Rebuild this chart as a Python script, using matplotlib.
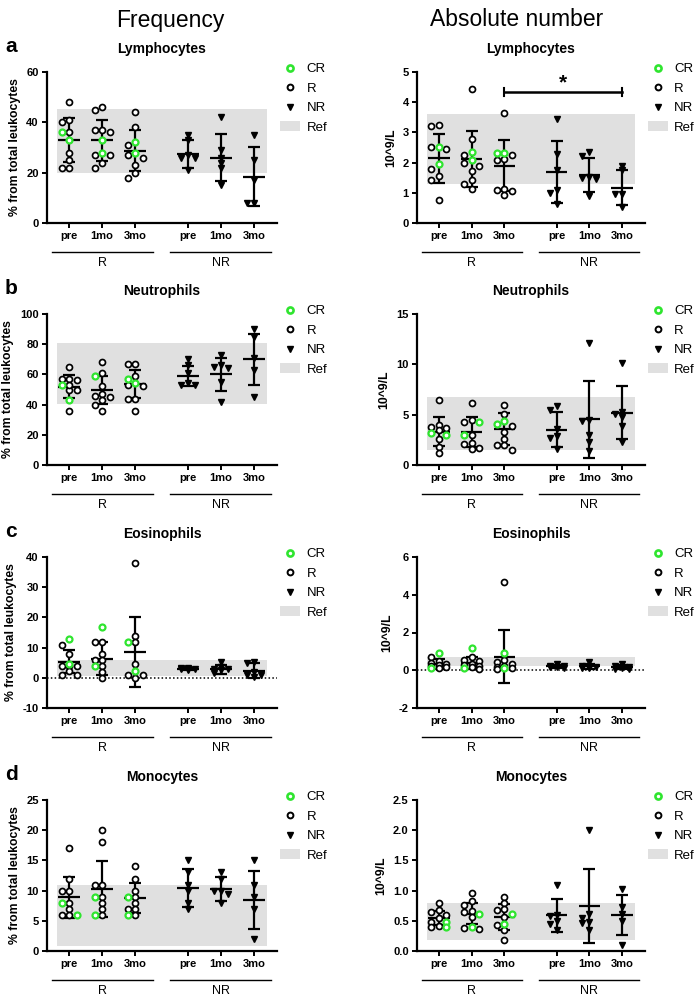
import numpy as np
import matplotlib
matplotlib.use("Agg")
import matplotlib.pyplot as plt
import matplotlib.transforms as mtransforms
from matplotlib.lines import Line2D
from matplotlib.patches import Patch

plt.rcParams["font.family"] = ["Liberation Sans", "DejaVu Sans"]

GREEN = "#2fe52f"
BAND = "#e0e0e0"

timepoints = ["pre", "1mo", "3mo", "pre", "1mo", "3mo"]
xpos = np.array([0, 1, 2, 3.6, 4.6, 5.6])

# --- Lymphocytes ---
lym_pct_r = [[48, 41, 40, 36, 28, 25, 22, 22],
             [46, 45, 37, 37, 36, 27, 27, 24, 22],
             [44, 38, 31, 27, 26, 23, 20, 18]]
lym_pct_cr = [[36, 33], [33, 28], [32, 28]]
lym_pct_nr = [[35, 33, 27, 26, 26, 21], [42, 29, 26, 24, 22, 15], [35, 25, 17, 8, 8]]
lym_pct_mean = [33.0, 32.9, 28.7, 27.4, 25.9, 18.4]
lym_pct_sd = [8.8, 8.1, 8.1, 5.5, 9.3, 11.6]
lym_pct_ref = [19.7, 45.1]

lym_abs_r = [[3.22, 3.26, 2.44, 2.5, 1.8, 1.55, 1.42, 0.77],
             [4.45, 2.77, 2.26, 2.0, 1.88, 1.72, 1.43, 1.28, 1.12],
             [3.65, 2.24, 2.12, 2.1, 1.14, 1.1, 1.05, 0.94]]
lym_abs_cr = [[2.52, 1.94], [2.35, 2.07], [2.33, 2.32]]
lym_abs_nr = [[3.45, 2.3, 1.75, 1.1, 1.0, 0.64], [2.35, 2.22, 1.52, 1.48, 1.45, 0.9],
              [1.89, 1.74, 0.97, 0.95, 0.53]]
lym_abs_mean = [2.14, 2.12, 1.90, 1.68, 1.59, 1.17]
lym_abs_sd = [0.8, 0.93, 0.84, 1.03, 0.56, 0.58]
lym_abs_ref = [1.29, 3.61]
lym_abs_sig = [2, 5]      # compared groups (index into timepoints)
lym_abs_sig_y = 4.33

# --- Neutrophils ---
neu_pct_r = [[65, 57, 57, 56, 50, 50, 53, 36],
             [68, 61, 52, 47, 46, 45, 43, 40, 36],
             [67, 67, 59, 53, 52, 44, 44, 36]]
neu_pct_cr = [[53, 43], [59], [57, 54]]
neu_pct_nr = [[70, 66, 61, 54, 53, 53], [73, 66, 65, 64, 55, 42], [90, 85, 71, 63, 45]]
neu_pct_mean = [51.8, 49.7, 53.6, 59.0, 60.1, 69.9]
neu_pct_sd = [7.7, 9.3, 9.1, 6.5, 10.9, 17.0]
neu_pct_ref = [40.5, 80.8]

neu_abs_r = [[6.45, 3.98, 3.75, 3.7, 3.5, 2.57, 1.78, 1.18],
             [6.2, 4.5, 4.3, 3.0, 2.2, 2.1, 1.7, 1.6],
             [6.0, 5.1, 3.9, 3.3, 2.6, 2.0, 2.0, 1.5]]
neu_abs_cr = [[3.16, 3.0], [4.3, 3.0], [4.4, 4.1]]
neu_abs_nr = [[5.9, 5.5, 3.6, 2.9, 2.7, 1.6], [12.1, 4.5, 4.4, 3.0, 2.3, 1.4],
              [10.1, 5.3, 5.1, 4.8, 3.9, 2.3]]
neu_abs_mean = [3.32, 3.26, 3.59, 3.49, 4.54, 5.2]
neu_abs_sd = [1.42, 1.48, 1.6, 1.75, 3.8, 2.6]
neu_abs_ref = [1.45, 6.71]

# --- Eosinophils ---
eos_pct_r = [[11, 8, 4, 4, 4, 2.3, 1, 1],
             [12, 12, 8, 6, 6, 4, 2, 0],
             [38, 14, 12, 4.5, 1, 1, 0]]
eos_pct_cr = [[12.9, 4.5], [16.9, 4.0], [12, 2.2]]
eos_pct_nr = [[3.3, 3.2, 3.0, 3.0, 2.9, 2.6], [5.2, 3.5, 3.0, 2.8, 2.5, 1.5],
              [5.2, 5.0, 2.0, 1.0, 1.0, 0.4]]
eos_pct_mean = [5.35, 6.35, 8.65, 3.0, 2.8, 2.4]
eos_pct_sd = [3.9, 5.5, 11.6, 0.3, 1.4, 2.5]
eos_pct_ref = [0.7, 5.8]

eos_abs_r = [[0.72, 0.5, 0.4, 0.35, 0.3, 0.2, 0.15, 0.1],
             [0.7, 0.55, 0.5, 0.35, 0.3, 0.2, 0.15, 0.05],
             [4.7, 0.55, 0.45, 0.35, 0.2, 0.15, 0.1, 0.05]]
eos_abs_cr = [[0.93, 0.1], [1.16, 0.1], [0.93, 0.1]]
eos_abs_nr = [[0.35, 0.25, 0.22, 0.18, 0.15, 0.12], [0.42, 0.2, 0.18, 0.15, 0.14, 0.12],
              [0.32, 0.25, 0.15, 0.12, 0.08, 0.05]]
eos_abs_mean = [0.33, 0.38, 0.72, 0.2, 0.2, 0.16]
eos_abs_sd = [0.26, 0.33, 1.42, 0.08, 0.11, 0.1]
eos_abs_ref = [0.23, 0.7]

# --- Monocytes ---
mono_pct_r = [[17, 12, 10, 10, 8, 7, 6, 6],
              [20, 18, 11, 11, 9, 8, 7, 6],
              [14, 12, 10, 9, 8, 7, 7, 6]]
mono_pct_cr = [[8, 6], [9, 6], [9, 6]]
mono_pct_nr = [[15, 13, 11, 10, 8, 7], [13, 12, 10, 10, 9.5, 8], [15, 11, 9, 7, 2]]
mono_pct_mean = [8.9, 10.3, 8.8, 10.4, 10.3, 8.5]
mono_pct_sd = [3.4, 4.6, 2.5, 3.1, 2.0, 4.8]
mono_pct_ref = [0.8, 11.0]

mono_abs_r = [[0.8, 0.68, 0.65, 0.6, 0.55, 0.48, 0.42, 0.4],
              [0.96, 0.82, 0.76, 0.67, 0.65, 0.57, 0.38, 0.37],
              [0.9, 0.8, 0.7, 0.68, 0.57, 0.43, 0.35, 0.19]]
mono_abs_cr = [[0.48, 0.4], [0.62, 0.4], [0.62, 0.45]]
mono_abs_nr = [[1.1, 0.6, 0.58, 0.5, 0.45, 0.35], [2.0, 0.62, 0.55, 0.48, 0.47, 0.35],
               [1.02, 0.73, 0.62, 0.5, 0.1]]
mono_abs_mean = [0.55, 0.62, 0.56, 0.59, 0.745, 0.59]
mono_abs_sd = [0.12, 0.18, 0.21, 0.27, 0.62, 0.33]
mono_abs_ref = [0.19, 0.8]


def swarm(values, ppy, ppx=33.0, step=7.5, dmin=6.0, kmax=1):
    """GraphPad-like horizontal spreading of overlapping points (in pixels)."""
    vals = np.asarray(values, float)
    order = np.argsort(-vals, kind="stable")
    placed = []
    offs = np.zeros(len(vals))
    cands = [0.0]
    for k in range(1, kmax + 1):
        cands += [-k * step, k * step]
    for i in order:
        yp = vals[i] * ppy
        best, best_d = 0.0, -1.0
        for c in cands:
            d = min([np.hypot(c - px, yp - py) for px, py in placed] or [1e9])
            if d >= dmin:
                best = c
                break
            if d > best_d + 0.5:
                best, best_d = c, d
        placed.append((best, yp))
        offs[i] = best / ppx
    return offs


def draw_panel(ax, r, cr, nr, mean, sd, ref, ylim, yticks, ylabel, title,
               yfmt="{:g}", zero_line=False):
    ppy = 151.0 / (ylim[1] - ylim[0])
    ax.fill_between([-0.36, 6.0], ref[0], ref[1], color=BAND, lw=0, zorder=0)
    if zero_line:
        ax.axhline(0, color="black", ls=(0, (1, 1.5)), lw=1.1, zorder=1)

    for i in range(3):
        vals = list(r[i]) + list(cr[i])
        offs = swarm(vals, ppy)
        n = len(r[i])
        ax.plot(xpos[i] + offs[:n], r[i], ls="none", marker="o", ms=4.3,
                mfc="white", mec="black", mew=1.25, zorder=4)
        ax.plot(xpos[i] + offs[n:], cr[i], ls="none", marker="o", ms=4.3,
                mfc="white", mec=GREEN, mew=1.6, zorder=5)
    for j in range(3):
        offs = swarm(nr[j], ppy, step=7.0, dmin=4.5)
        ax.plot(xpos[3 + j] + offs, nr[j], ls="none", marker="v", ms=4.7,
                color="black", zorder=4)

    ax.errorbar(xpos, mean, yerr=sd, fmt="none", ecolor="black", elinewidth=1.6,
                capsize=4.6, capthick=1.6, zorder=3)
    ax.hlines(mean, xpos - 0.33, xpos + 0.33, color="black", lw=1.6, zorder=3)

    ax.set_xlim(-0.67, 6.3)
    ax.set_ylim(ylim)
    ax.set_yticks(yticks)
    ax.set_yticklabels([yfmt.format(t) for t in yticks])
    ax.set_xticks(xpos)
    ax.set_xticklabels(timepoints)
    for lab in ax.get_xticklabels() + ax.get_yticklabels():
        lab.set_fontweight("bold")
    ax.tick_params(labelsize=8, width=1.4, length=3.5, pad=2.5)
    for s in ["top", "right"]:
        ax.spines[s].set_visible(False)
    for s in ["left", "bottom"]:
        ax.spines[s].set_linewidth(1.6)
    ax.set_ylabel(ylabel, fontsize=8.8, fontweight="bold", labelpad=4)
    ax.set_title(title, fontsize=10, fontweight="bold", pad=14)

    # group underlines R / NR
    trans = mtransforms.blended_transform_factory(ax.transData, ax.transAxes)
    for c, lab in zip([np.mean(xpos[:3]), np.mean(xpos[3:])], ["R", "NR"]):
        ax.plot([c - 1.53, c + 1.53], [-0.19, -0.19], color="black", lw=1.0,
                transform=trans, clip_on=False)
        ax.text(c, -0.265, lab, transform=trans, ha="center", va="center", fontsize=9)

    handles = [
        Line2D([], [], ls="none", marker="o", ms=4.4, mfc="white", mec=GREEN, mew=1.9),
        Line2D([], [], ls="none", marker="o", ms=4.2, mfc="white", mec="black", mew=1.4),
        Line2D([], [], ls="none", marker="v", ms=4.6, color="black"),
        Patch(facecolor=BAND, edgecolor="none"),
    ]
    ax.legend(handles, ["CR", "R", "NR", "Ref"], loc="upper left",
              bbox_to_anchor=(1.013, 1.06), frameon=False, fontsize=9.5,
              handlelength=1.5, handletextpad=0.5, labelspacing=0.55,
              borderpad=0, borderaxespad=0)


fig = plt.figure(figsize=(6.97, 9.96), dpi=100)
W, H = 697.0, 996.0
row_tops = [72, 314, 557, 800]
ax_h = 151
col_left = [(47, 230), (417, 228)]

rows = [
    ("Lymphocytes",
     (lym_pct_r, lym_pct_cr, lym_pct_nr, lym_pct_mean, lym_pct_sd, lym_pct_ref, (0, 60), [0, 20, 40, 60], "{:g}", False),
     (lym_abs_r, lym_abs_cr, lym_abs_nr, lym_abs_mean, lym_abs_sd, lym_abs_ref, (0, 5), [0, 1, 2, 3, 4, 5], "{:g}", False)),
    ("Neutrophils",
     (neu_pct_r, neu_pct_cr, neu_pct_nr, neu_pct_mean, neu_pct_sd, neu_pct_ref, (0, 100), [0, 20, 40, 60, 80, 100], "{:g}", False),
     (neu_abs_r, neu_abs_cr, neu_abs_nr, neu_abs_mean, neu_abs_sd, neu_abs_ref, (0, 15), [0, 5, 10, 15], "{:g}", False)),
    ("Eosinophils",
     (eos_pct_r, eos_pct_cr, eos_pct_nr, eos_pct_mean, eos_pct_sd, eos_pct_ref, (-10, 40), [-10, 0, 10, 20, 30, 40], "{:g}", True),
     (eos_abs_r, eos_abs_cr, eos_abs_nr, eos_abs_mean, eos_abs_sd, eos_abs_ref, (-2, 6), [-2, 0, 2, 4, 6], "{:g}", True)),
    ("Monocytes",
     (mono_pct_r, mono_pct_cr, mono_pct_nr, mono_pct_mean, mono_pct_sd, mono_pct_ref, (0, 25), [0, 5, 10, 15, 20, 25], "{:g}", False),
     (mono_abs_r, mono_abs_cr, mono_abs_nr, mono_abs_mean, mono_abs_sd, mono_abs_ref, (0, 2.5), [0, 0.5, 1.0, 1.5, 2.0, 2.5], "{:.1f}", False)),
]
ylabels = ["% from total leukocytes", "10^9/L"]
letters = ["a", "b", "c", "d"]

axes = []
for ri, (title, left_spec, right_spec) in enumerate(rows):
    top = row_tops[ri]
    for ci, spec in enumerate([left_spec, right_spec]):
        x0, w = col_left[ci]
        ax = fig.add_axes([x0 / W, 1 - (top + ax_h) / H, w / W, ax_h / H])
        r, cr, nr, mean, sd, ref, ylim, yticks, yfmt, zl = spec
        draw_panel(ax, r, cr, nr, mean, sd, ref, ylim, yticks, ylabels[ci], title,
                   yfmt=yfmt, zero_line=zl)
        axes.append(ax)
    fig.text(5 / W, 1 - (top - 20) / H, letters[ri], fontsize=15, fontweight="bold",
             ha="left", va="baseline")

# significance bracket (absolute lymphocytes, 3mo R vs 3mo NR)
ax = axes[1]
xa, xb = xpos[lym_abs_sig[0]], xpos[lym_abs_sig[1]]
ax.plot([xa, xb], [lym_abs_sig_y, lym_abs_sig_y], color="black", lw=1.8, clip_on=False)
for xx in (xa, xb):
    ax.plot([xx, xx], [lym_abs_sig_y - 0.14, lym_abs_sig_y + 0.14], color="black",
            lw=1.5, clip_on=False)
ax.text((xa + xb) / 2, lym_abs_sig_y + 0.3, "*", ha="center", va="center",
        fontsize=15, fontweight="bold")

fig.text(170 / W, 1 - 20 / H, "Frequency", ha="center", va="center", fontsize=16.5)
fig.text(517 / W, 1 - 20 / H, "Absolute number", ha="center", va="center", fontsize=16.5)

fig.savefig("out.png", dpi=100)
